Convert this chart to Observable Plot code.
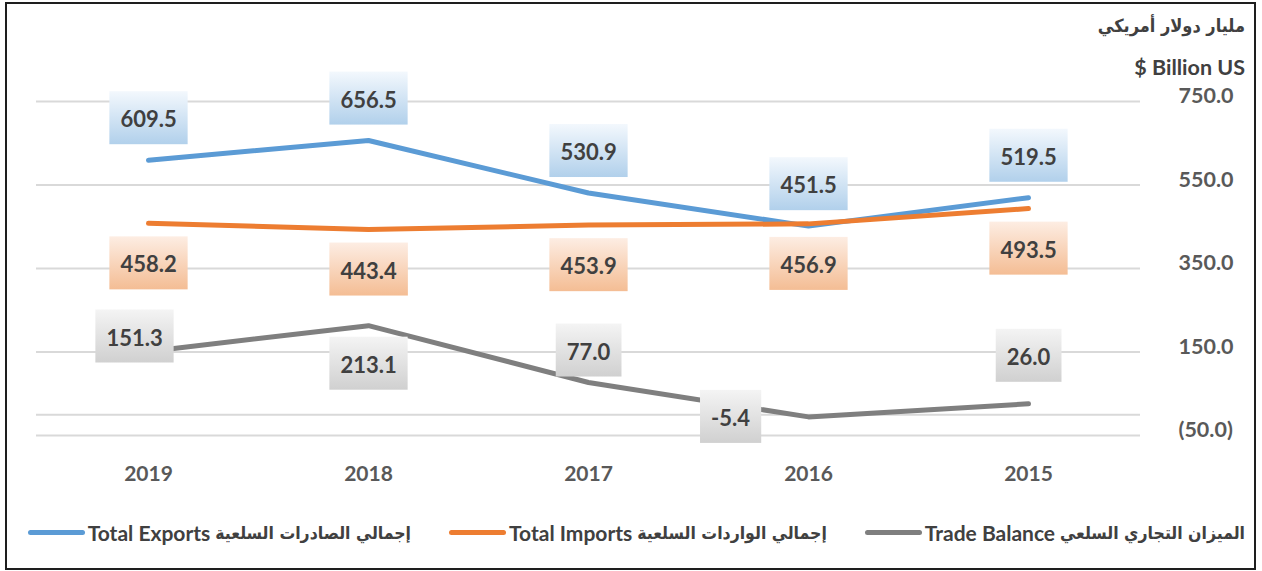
<!DOCTYPE html>
<html>
<head>
<meta charset="utf-8">
<script src="https://cdn.jsdelivr.net/npm/d3@7"></script>
<script src="https://cdn.jsdelivr.net/npm/@observablehq/plot@0.6"></script>
<style>
  body { margin: 0; background: #fff; }
  #wrap { position: relative; width: 1262px; height: 571px; overflow: hidden; font-family: Lato, "DejaVu Sans", sans-serif; }
  #frame { position: absolute; left: 5px; top: 2px; width: 1251px; height: 568px; border: 2px solid #1e1e1e; box-sizing: border-box; pointer-events: none; }
  #plot { position: absolute; left: 0; top: 0; }
  .unit { position: absolute; right: 17px; font-weight: bold; color: #404040; white-space: nowrap; }
  #unitAr { top: 15px; font-size: 18px; direction: rtl; font-family: "DejaVu Sans Condensed", "DejaVu Sans", sans-serif; }
  #unitEn { top: 54px; font-size: 21.5px; }
  #legend { position: absolute; right: 17px; top: 520px; display: flex; align-items: center; gap: 38px; font-size: 21px; font-weight: bold; color: #404040; direction: ltr; white-space: nowrap; }
  .item { display: flex; align-items: center; }
  .swatch { display: inline-block; width: 57px; height: 5px; border-radius: 3px; margin-right: 3px; }
  .ar { direction: rtl; unicode-bidi: isolate; margin-left: 5px; font-size: 17.5px; font-family: "DejaVu Sans Condensed", "DejaVu Sans", sans-serif; }
</style>
</head>
<body>
<div id="wrap">
  <div id="plot"></div>
  <div id="unitAr" class="unit">مليار دولار أمريكي</div>
  <div id="unitEn" class="unit">$ Billion US</div>
  <div id="legend"></div>
  <div id="frame"></div>
</div>
<script>
// Merchandise trade, billions of US dollars
const years = ["2019", "2018", "2017", "2016", "2015"];
const exportsBn = [609.5, 656.5, 530.9, 451.5, 519.5];
const importsBn = [458.2, 443.4, 453.9, 456.9, 493.5];
const balanceBn = [151.3, 213.1, 77.0, -5.4, 26.0];
const yTicks = [750, 550, 350, 150, -50];

const seriesNames = ["exports", "imports", "balance"];
const seriesEn = ["Total Exports", "Total Imports", "Trade Balance"];
const seriesAr = ["إجمالي الصادرات السلعية", "إجمالي الواردات السلعية", "الميزان التجاري السلعي"];
const seriesColor = ["#5b9bd5", "#ed7d31", "#7f7f7f"];

const rows = (name, values) => years.map((year, i) => ({series: name, year, value: values[i]}));
const exportRows = rows("exports", exportsBn);
const importRows = rows("imports", importsBn);
const balanceRows = rows("balance", balanceBn);

// label nudges for the trade-balance callouts (pixels from the point)
const balanceNudge = {"2019": [-14, -13], "2018": [0, 40], "2017": [0, -30], "2016": [-78, 2], "2015": [0, -46]};

const fmt = v => v.toFixed(1);
const labelStyle = {text: d => fmt(d.value), fill: "#404040", fontSize: 22, fontWeight: "bold"};

const marks = [
  Plot.gridY(yTicks, {stroke: "#d9d9d9", strokeOpacity: 1, strokeWidth: 2}),
  Plot.ruleY([0], {stroke: "#d9d9d9", strokeWidth: 2}),
  Plot.axisY(yTicks, {
    anchor: "right", tickSize: 0, tickPadding: 38, textAnchor: "start", dy: -5,
    tickFormat: d => d < 0 ? `(${fmt(-d)})` : fmt(d),
    fill: "#595959", fontSize: 21.5, fontWeight: "bold", label: null
  }),
  Plot.axisX({tickSize: 0, tickPadding: 31, fill: "#595959", fontSize: 21, fontWeight: "bold", label: null}),
  Plot.line(exportRows, {x: "year", y: "value", stroke: seriesColor[0], strokeWidth: 5, strokeLinecap: "round"}),
  Plot.line(importRows, {x: "year", y: "value", stroke: seriesColor[1], strokeWidth: 5, strokeLinecap: "round"}),
  Plot.line(balanceRows, {x: "year", y: "value", stroke: seriesColor[2], strokeWidth: 5, strokeLinecap: "round"}),
  Plot.text(exportRows, {x: "year", y: "value", dy: -40, className: "lbl-exports", ...labelStyle}),
  Plot.text(importRows, {x: "year", y: "value", dy: 42, className: "lbl-imports", ...labelStyle}),
  ...balanceRows.map(r => Plot.text([r], {
    x: "year", y: "value", dx: balanceNudge[r.year][0], dy: balanceNudge[r.year][1],
    className: "lbl-balance", ...labelStyle
  }))
];

const chart = Plot.plot({
  width: 1262,
  height: 495,
  marginLeft: 36,
  marginRight: 122,
  marginTop: 101,
  marginBottom: 60,
  style: {fontFamily: "Lato, 'DejaVu Sans', sans-serif", background: "transparent"},
  x: {type: "point", domain: years, padding: 0.5},
  y: {domain: [-50, 750]},
  marks
});
document.getElementById("plot").append(chart);

// gradient-filled callout boxes behind each value label
const ns = "http://www.w3.org/2000/svg";
const defs = document.createElementNS(ns, "defs");
const gradients = {exports: ["#f3f8fd", "#b1d0eb"], imports: ["#fdede3", "#f4bd94"], balance: ["#f4f4f4", "#d0d0d0"]};
for (const [key, [top, bottom]] of Object.entries(gradients)) {
  const g = document.createElementNS(ns, "linearGradient");
  g.setAttribute("id", "grad-" + key);
  g.setAttribute("x1", "0"); g.setAttribute("y1", "0"); g.setAttribute("x2", "0"); g.setAttribute("y2", "1");
  [[0, top], [1, bottom]].forEach(([o, c]) => {
    const s = document.createElementNS(ns, "stop");
    s.setAttribute("offset", o); s.setAttribute("stop-color", c);
    g.append(s);
  });
  defs.append(g);
}
chart.prepend(defs);

for (const key of seriesNames) {
  chart.querySelectorAll(`g.lbl-${key} text`).forEach(t => {
    const b = t.getBBox();
    const w = b.width + 22, h = 53;
    const cx = b.x + b.width / 2, cy = b.y + b.height / 2 - 1;
    const rect = document.createElementNS(ns, "rect");
    rect.setAttribute("x", cx - w / 2);
    rect.setAttribute("y", cy - h / 2);
    rect.setAttribute("width", w);
    rect.setAttribute("height", h);
    rect.setAttribute("fill", `url(#grad-${key})`);
    if (t.getAttribute("transform")) rect.setAttribute("transform", t.getAttribute("transform"));
    t.parentNode.insertBefore(rect, t);
  });
}

// legend
const legend = document.getElementById("legend");
seriesNames.forEach((name, i) => {
  const item = document.createElement("div");
  item.className = "item";
  const sw = document.createElement("span");
  sw.className = "swatch";
  sw.style.background = seriesColor[i];
  const en = document.createElement("span");
  en.textContent = seriesEn[i];
  const ar = document.createElement("span");
  ar.className = "ar";
  ar.textContent = seriesAr[i];
  item.append(sw, en, ar);
  legend.append(item);
});
</script>
</body>
</html>
